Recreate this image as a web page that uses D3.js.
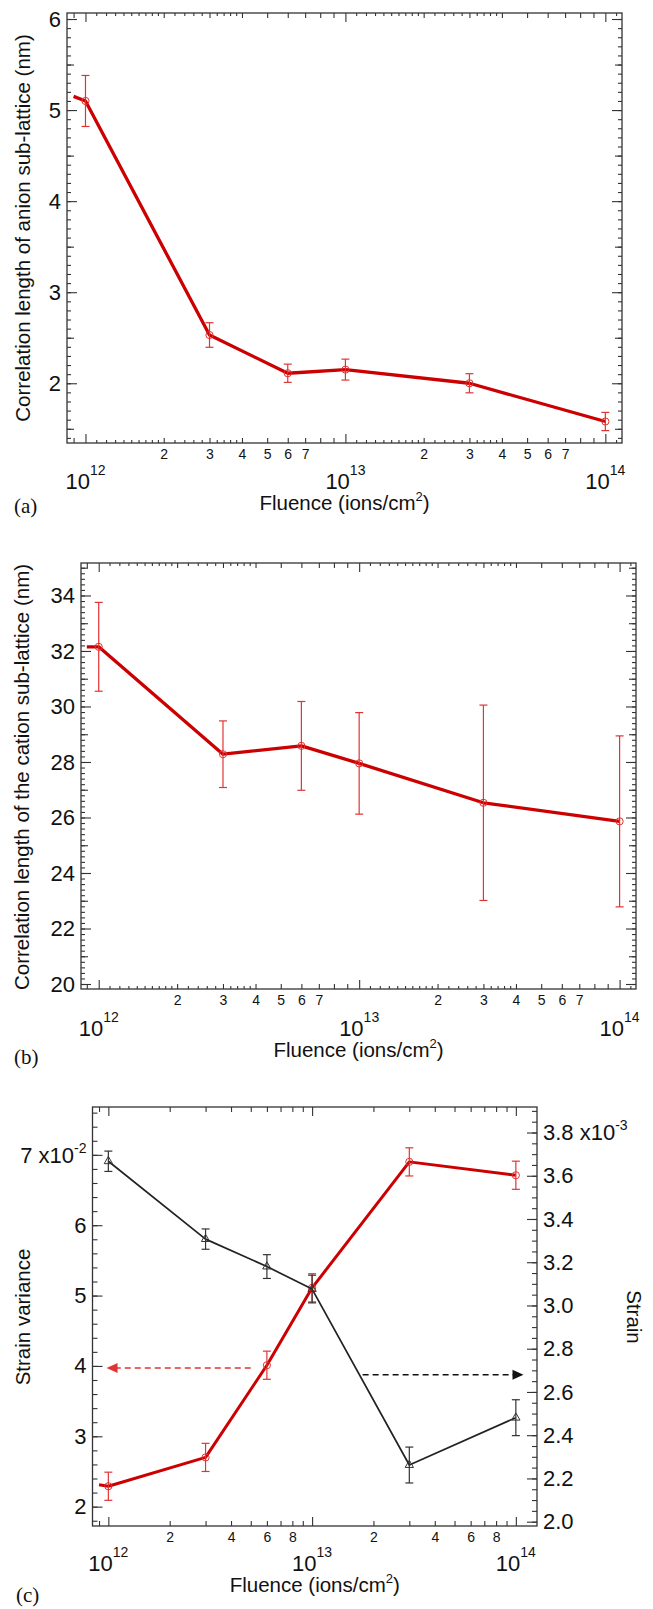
<!DOCTYPE html>
<html lang="en">
<head>
<meta charset="UTF-8">
<title>Correlation length and strain vs fluence</title>
<style>
  body { margin: 0; background: #fff; }
  svg text { fill: #111; }
</style>
</head>
<body>
<svg id="mainsvg" width="653" height="1609"></svg>
<script src="https://cdn.jsdelivr.net/npm/d3@7/dist/d3.min.js"></script>
<script>
// ---- data ----
const fluence = [1e12, 3e12, 6e12, 1e13, 3e13, 1e14]   // ions/cm^2
const lineStart = 9e11                                  // line begins a little left of the first marker

// (a) anion sub-lattice correlation length (nm)
const anionLen = [5.10, 2.53, 2.11, 2.15, 2.00, 1.58]
const anionErr = [0.28, 0.135, 0.10, 0.115, 0.105, 0.10]
const anionStart = 5.15

// (b) cation sub-lattice correlation length (nm)
const cationLen = [32.15, 28.28, 28.58, 27.95, 26.53, 25.86]
const cationErr = [1.6, 1.2, 1.6, 1.83, 3.52, 3.08]
const cationStart = 32.15

// (c) strain variance (x1e-2) and strain (x1e-3)
const strainVar = [2.29, 2.70, 4.01, 5.11, 6.90, 6.71]
const strainVarErr = [0.2, 0.2, 0.2, 0.2, 0.2, 0.2]
const strainVarStart = 2.31
const strain = [3.667, 3.307, 3.18, 3.076, 2.262, 2.481]
const strainErr = [0.047, 0.047, 0.055, 0.064, 0.083, 0.083]

// dashed arrows in (c): [from fluence, to fluence, value on its own axis]
const redArrow = [5e12, 9.8e11, 3.97]
const blackArrow = [1.77e13, 1.09e14, 2.68]

// tick labels
const decades = [1e12, 1e13, 1e14]
const minorLabelsAB = [2, 3, 4, 5, 6, 7]
const minorLabelsC = [2, 4, 6, 8]
const yLabelsA = [2, 3, 4, 5, 6]
const yLabelsB = [20, 22, 24, 26, 28, 30, 32, 34]
const yLabelsCLeft = [2, 3, 4, 5, 6, 7]
const yLabelsCRight = [2.0, 2.2, 2.4, 2.6, 2.8, 3.0, 3.2, 3.4, 3.6, 3.8]

// ---- helpers ----
const FONT = '"Liberation Sans", Arial, Helvetica, sans-serif'
const SERIF = '"Liberation Serif", "Times New Roman", serif'
const RED = '#cc0000', RED_LIGHT = '#e03434', INK = '#222'
const svg = d3.select('#mainsvg')

const range = (a, b, s) => d3.range(Math.round((b - a) / s) + 1).map(i => +(a + i * s).toFixed(6))
const times = (ms, decs) => decs.flatMap(d => ms.map(m => m * d))

function makePanel(cfg) {
  const w = cfg.right - cfg.left, h = cfg.bottom - cfg.top
  const g = svg.append('g').attr('transform', `translate(${cfg.left},${cfg.top})`)
  const x = d3.scaleLog().domain(cfg.xDomain).range([0, w])
  const y = d3.scaleLinear().domain(cfg.yDomain).range([h, 0])
  return { g, x, y, w, h }
}

function tickMarks(g, axis, vals, len, tr) {
  g.append('g').attr('transform', tr).attr('color', '#333')
    .call(axis.tickValues(vals).tickSize(-len).tickFormat(''))
    .call(s => s.select('.domain').remove())
    .selectAll('line').attr('stroke-width', 1.1)
}

function xTicks(p, sets) {
  sets.forEach(([vals, len]) => {
    tickMarks(p.g, d3.axisBottom(p.x), vals, len, `translate(0,${p.h})`)
    tickMarks(p.g, d3.axisTop(p.x), vals, len, null)
  })
}

function yTicks(p, y, sets, sides) {
  sets.forEach(([vals, len]) => {
    if (sides.includes('left')) tickMarks(p.g, d3.axisLeft(y), vals, len, null)
    if (sides.includes('right')) tickMarks(p.g, d3.axisRight(y), vals, len, `translate(${p.w},0)`)
  })
}

function box(p) {
  p.g.append('rect').attr('width', p.w).attr('height', p.h)
    .attr('fill', 'none').attr('stroke', '#333').attr('stroke-width', 1.3)
}

function fontify(sel, size) {
  sel.attr('font-family', FONT).attr('font-size', size).attr('color', '#111')
}

function xLabels(p, minor, majorDy, titleDy) {
  p.g.append('g').attr('transform', `translate(0,${p.h})`)
    .call(d3.axisBottom(p.x).tickValues(minor).tickSize(0).tickPadding(6)
      .tickFormat(d => Math.round(d / 10 ** Math.floor(Math.log10(d) + 1e-9))))
    .call(s => s.select('.domain').remove())
    .call(s => fontify(s, 14))
  decades.forEach(v => {
    const t = p.g.append('text').attr('x', p.x(v)).attr('y', p.h + majorDy)
      .attr('text-anchor', 'middle').attr('font-family', FONT).attr('font-size', 22)
    t.append('tspan').text('10')
    t.append('tspan').attr('dy', -14).attr('font-size', 14).text(Math.round(Math.log10(v)))
  })
  const t = p.g.append('text').attr('x', p.w / 2).attr('y', p.h + titleDy)
    .attr('text-anchor', 'middle').attr('font-family', FONT).attr('font-size', 20.5)
  t.append('tspan').text('Fluence (ions/cm')
  t.append('tspan').attr('dy', -9).attr('font-size', 13).text('2')
  t.append('tspan').attr('dy', 9).text(')')
}

function yLabelsLeft(p, vals, fmt) {
  return p.g.append('g')
    .call(d3.axisLeft(p.y).tickValues(vals).tickSize(0).tickPadding(6).tickFormat(fmt))
    .call(s => s.select('.domain').remove())
    .call(s => fontify(s, 22))
}

function yTitle(p, text, x, rot) {
  svg.append('text')
    .attr('transform', `translate(${x},${p.cy}) rotate(${rot})`)
    .attr('text-anchor', 'middle').attr('font-family', FONT).attr('font-size', 20.5)
    .text(text)
}

function tag(label, x, y) {
  svg.append('text').attr('x', x).attr('y', y).attr('font-family', SERIF).attr('font-size', 21).text(label)
}

function series(p, y, xs, ys, errs, start, o) {
  const pts = (start != null ? [[lineStart, start]] : []).concat(xs.map((v, i) => [v, ys[i]]))
  p.g.append('path').datum(pts).attr('fill', 'none')
    .attr('stroke', o.line).attr('stroke-width', o.width).attr('stroke-linejoin', 'round')
    .attr('d', d3.line().x(d => p.x(d[0])).y(d => y(d[1])))
  const eb = p.g.append('g').attr('stroke', o.err).attr('stroke-width', 1.2).attr('fill', 'none')
  xs.forEach((v, i) => {
    const cx = p.x(v), y1 = y(ys[i] - errs[i]), y2 = y(ys[i] + errs[i])
    eb.append('line').attr('x1', cx).attr('x2', cx).attr('y1', y1).attr('y2', y2)
    eb.append('line').attr('x1', cx - 4).attr('x2', cx + 4).attr('y1', y1).attr('y2', y1)
    eb.append('line').attr('x1', cx - 4).attr('x2', cx + 4).attr('y1', y2).attr('y2', y2)
  })
  const mk = p.g.append('g').attr('stroke', o.err).attr('stroke-width', 1).attr('fill', 'none')
  xs.forEach((v, i) => {
    if (o.marker === 'circle') {
      mk.append('circle').attr('cx', p.x(v)).attr('cy', y(ys[i])).attr('r', 3.6)
    } else {
      mk.append('path').attr('transform', `translate(${p.x(v)},${y(ys[i])})`)
        .attr('d', d3.symbol(d3.symbolTriangle, 30)())
    }
  })
}

// x tick sets shared by (a) and (b)
const tinyAB = times([1.1, 1.2, 1.3, 1.4, 1.5, 1.6, 1.7, 1.8, 1.9, 2.2, 2.4, 2.6, 2.8, 3.2, 3.4, 3.6, 3.8], [1e12, 1e13]).concat([1.1e14])
const midX = [9e11].concat(times([2, 3, 4, 5, 6, 7, 8, 9], [1e12, 1e13]))

// ---- (a) ----
const pa = makePanel({ left: 67, right: 622, top: 13, bottom: 443, xDomain: [8.49e11, 1.159e14], yDomain: [1.344, 6.066] })
pa.cy = 228
xTicks(pa, [[tinyAB, 3], [midX, 5], [decades, 9]])
yTicks(pa, pa.y, [[range(1.4, 6.0, 0.1), 4], [range(1.5, 5.5, 1), 7], [yLabelsA, 10]], ['left', 'right'])
series(pa, pa.y, fluence, anionLen, anionErr, anionStart, { line: RED, width: 3.3, err: RED_LIGHT, marker: 'circle' })
box(pa)
yLabelsLeft(pa, yLabelsA, d3.format('d'))
xLabels(pa, times(minorLabelsAB, [1e12, 1e13]), 46, 67)
yTitle(pa, 'Correlation length of anion sub-lattice (nm)', 30, -90)
tag('(a)', 14, 513)

// ---- (b) ----
const pb = makePanel({ left: 81, right: 636, top: 563, bottom: 989, xDomain: [8.55e11, 1.156e14], yDomain: [19.82, 35.17] })
pb.cy = 777
xTicks(pb, [[tinyAB, 3], [midX, 5], [decades, 9]])
yTicks(pb, pb.y, [[range(20, 35, 0.2), 4], [range(21, 35, 2), 7], [yLabelsB, 10]], ['left', 'right'])
series(pb, pb.y, fluence, cationLen, cationErr, cationStart, { line: RED, width: 3.3, err: RED_LIGHT, marker: 'circle' })
box(pb)
yLabelsLeft(pb, yLabelsB, d3.format('d'))
xLabels(pb, times(minorLabelsAB, [1e12, 1e13]), 47, 68)
yTitle(pb, 'Correlation length of the cation sub-lattice (nm)', 29, -90)
tag('(b)', 14, 1064)

// ---- (c) ----
const pc = makePanel({ left: 92.5, right: 537, top: 1107, bottom: 1526, xDomain: [8.36e11, 1.27e14], yDomain: [1.725, 7.68] })
pc.cy = 1317
const yR = d3.scaleLinear().domain([1.98, 3.918]).range([pc.h, 0])
xTicks(pc, [[midX, 5], [decades, 9]])
yTicks(pc, pc.y, [[range(1.8, 7.6, 0.2), 5], [yLabelsCLeft, 10]], ['left'])
yTicks(pc, yR, [[range(2.0, 3.9, 0.05), 5], [yLabelsCRight, 10]], ['right'])
series(pc, pc.y, fluence, strainVar, strainVarErr, strainVarStart, { line: RED, width: 3, err: RED_LIGHT, marker: 'circle' })
series(pc, yR, fluence, strain, strainErr, null, { line: INK, width: 1.7, err: '#333', marker: 'triangle' })

// dashed arrows
const arrow = (spec, y, color) => {
  const [x0, x1, v] = spec
  const ax = pc.x(x0), tip = pc.x(x1), ay = y(v), dir = Math.sign(tip - ax)
  pc.g.append('line').attr('x1', ax).attr('x2', tip - dir * 10).attr('y1', ay).attr('y2', ay)
    .attr('stroke', color).attr('stroke-width', 1.5).attr('stroke-dasharray', '6,4')
  pc.g.append('path').attr('fill', color)
    .attr('d', `M${tip},${ay}L${tip - dir * 11},${ay - 5}L${tip - dir * 11},${ay + 5}Z`)
}
arrow(redArrow, pc.y, RED_LIGHT)
arrow(blackArrow, yR, '#111')

box(pc)
yLabelsLeft(pc, yLabelsCLeft.filter(d => d < 7), d3.format('d'))
{
  const t = pc.g.append('text').attr('x', -6).attr('y', pc.y(7)).attr('dy', '0.35em')
    .attr('text-anchor', 'end').attr('font-family', FONT).attr('font-size', 22)
  t.append('tspan').text('7 x10')
  t.append('tspan').attr('dy', -10).attr('font-size', 14).text('-2')
}
pc.g.append('g').attr('transform', `translate(${pc.w},0)`)
  .call(d3.axisRight(yR).tickValues(yLabelsCRight.filter(d => d < 3.7)).tickSize(0).tickPadding(6).tickFormat(d3.format('.1f')))
  .call(s => s.select('.domain').remove())
  .call(s => fontify(s, 22))
{
  const t = pc.g.append('text').attr('x', pc.w + 6).attr('y', yR(3.8)).attr('dy', '0.35em')
    .attr('font-family', FONT).attr('font-size', 22)
  t.append('tspan').text('3.8 x10')
  t.append('tspan').attr('dy', -10).attr('font-size', 14).text('-3')
}
xLabels(pc, times(minorLabelsC, [1e12, 1e13]), 45, 66)
yTitle(pc, 'Strain variance', 30, -90)
yTitle(pc, 'Strain', 627, 90)
tag('(c)', 16, 1602)
</script>
</body>
</html>
